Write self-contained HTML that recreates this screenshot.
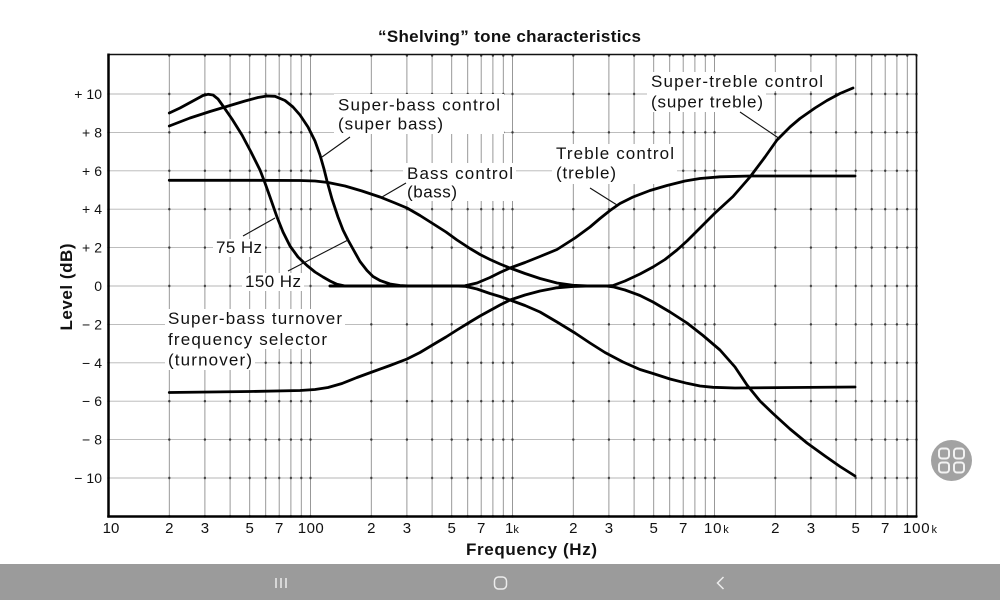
<!DOCTYPE html>
<html>
<head>
<meta charset="utf-8">
<style>
html,body{margin:0;padding:0;background:#fff;}
svg{display:block;}
text{font-family:"Liberation Sans",Arial,sans-serif;fill:#111;}
</style>
</head>
<body>
<svg width="1000" height="600" viewBox="0 0 1000 600" xmlns="http://www.w3.org/2000/svg">
<defs>
<pattern id="dots" patternUnits="userSpaceOnUse" x="103.5" y="36.4" width="202" height="38.4">
<g fill="#3a3a3a">
<circle cx="5" cy="19.2" r="1.2"/><circle cx="65.8" cy="19.2" r="1.2"/><circle cx="101.4" cy="19.2" r="1.2"/>
<circle cx="126.6" cy="19.2" r="1.2"/><circle cx="146.2" cy="19.2" r="1.2"/><circle cx="162.2" cy="19.2" r="1.2"/>
<circle cx="175.7" cy="19.2" r="1.2"/><circle cx="187.4" cy="19.2" r="1.2"/><circle cx="197.8" cy="19.2" r="1.2"/>
</g>
</pattern>
</defs>
<rect width="1000" height="600" fill="#fff"/>

<!-- grid vertical -->
<path fill="none" stroke="#8e8e8e" stroke-width="0.9" d="
M169.3 54.5V516.5M204.9 54.5V516.5M230.1 54.5V516.5M249.7 54.5V516.5M265.7 54.5V516.5M279.2 54.5V516.5M290.9 54.5V516.5M301.3 54.5V516.5
M310.5 54.5V516.5M371.3 54.5V516.5M406.9 54.5V516.5M432.1 54.5V516.5M451.7 54.5V516.5M467.7 54.5V516.5M481.2 54.5V516.5M492.9 54.5V516.5M503.3 54.5V516.5
M512.5 54.5V516.5M573.3 54.5V516.5M608.9 54.5V516.5M634.1 54.5V516.5M653.7 54.5V516.5M669.7 54.5V516.5M683.2 54.5V516.5M694.9 54.5V516.5M705.3 54.5V516.5
M714.5 54.5V516.5M775.3 54.5V516.5M810.9 54.5V516.5M836.1 54.5V516.5M855.7 54.5V516.5M871.7 54.5V516.5M885.2 54.5V516.5M896.9 54.5V516.5M907.3 54.5V516.5"/>
<!-- grid horizontal -->
<path fill="none" stroke="#b4b4b4" stroke-width="0.9" d="
M108.5 94H916.5M108.5 132.4H916.5M108.5 170.8H916.5M108.5 209.2H916.5M108.5 247.6H916.5M108.5 286H916.5
M108.5 324.4H916.5M108.5 362.8H916.5M108.5 401.2H916.5M108.5 439.6H916.5M108.5 478H916.5"/>
<rect x="107" y="53" width="812" height="466" fill="url(#dots)"/>

<!-- label backgrounds -->
<g fill="#fff">
<rect x="334" y="94" width="170" height="40"/>
<rect x="403" y="163" width="113" height="38"/>
<rect x="552" y="144" width="125" height="40"/>
<rect x="647" y="72" width="180" height="19"/>
<rect x="647" y="91" width="119" height="21"/>
<rect x="213" y="239" width="52" height="18"/>
<rect x="242" y="273" width="62" height="18"/>
<rect x="165" y="309" width="180" height="19"/>
<rect x="165" y="328" width="165" height="21"/>
<rect x="165" y="349" width="90" height="21"/>
</g>

<!-- axes / frame -->
<line x1="108.5" y1="54.5" x2="916.5" y2="54.5" stroke="#111" stroke-width="1.6"/>
<line x1="916.5" y1="54" x2="916.5" y2="517" stroke="#111" stroke-width="1.6"/>
<line x1="108.5" y1="53.5" x2="108.5" y2="517.5" stroke="#000" stroke-width="2.5"/>
<line x1="107.3" y1="516.5" x2="917.3" y2="516.5" stroke="#000" stroke-width="2.5"/>

<!-- curves -->
<g fill="none" stroke="#000" stroke-width="2.8" stroke-linejoin="round" stroke-linecap="round">
<polyline points="169.3,180.3 250,180.3 300,180.5 315,181 328,182.5 345,186 362,191 380,197 395,203 407,208 420,215.5 435,225 446,232 457,240 470,248.5 480,254.5 490,259.5 500,264 510,268 525,273.5 540,278.5 557,283 573,285.3 590,286 612,286"/>
<polyline points="169.3,392.5 250,391.5 300,390.5 315,389.5 328,387.5 342,383.5 357,377.5 372,372 390,365.5 407,359 420,352.5 435,343.5 446,337 457,330 470,322 480,316 490,310.5 500,305 510,300 525,295 540,291 557,287.8 573,286.5 590,286 612,286"/>
<polyline points="330,286 455,286 465,285.8 477,283 490,277.5 500,272.5 510,268 525,262.5 540,256.5 557,249.5 575,238 590,227 600,218.5 610,210.5 620,203.5 633,197 650,190.5 667,185.5 685,181 700,178.5 720,176.8 750,176 855,176"/>
<polyline points="330,286 455,286 465,286.3 477,289 490,293.5 500,296.5 510,300 525,305.5 540,312 557,322 575,333 590,343 605,352.5 623,362 640,369.5 653,373.5 670,379 687,383.3 700,386 713,387.3 735,388 855,387"/>
<polyline points="560,286 606,286 613,285.5 625,281 640,274 653,267 665,259.5 677,250 687,241 700,228 715,213 733,196.5 750,177 765,157 777,140 790,127 800,118.5 815,108 827,100.5 840,93.5 853,88"/>
<polyline points="560,286 606,286 613,286.8 625,290 640,295.5 653,302 670,312 687,323 703,335.5 720,350 735,367 747,385 760,401 773,413.5 790,429 807,443 825,456 840,466.5 855,476"/>
<polyline points="169.3,113 180,108 192,101.5 203,95.5 208,94.3 213,95 218,99 223,106 232,119 242,135 251,152 260,170 265,183 270,197 277,217 283,232 290,246 298,257 307,265.5 315,272 323,277 330,281 337,284.3 345,286 460,286"/>
<polyline points="169.3,126 190,118 210,111.5 225,107 245,101 258,97.5 267,96 275,96.3 285,100.5 293,107 300,115 308,127 315,141 320,155 324,169 327,181 332,199 338,217 343,230 348,240 353,249 360,261.5 367,270.5 373,276.5 380,280.5 390,284 400,285.5 410,286 460,286"/>
</g>

<!-- leader lines -->
<g stroke="#111" stroke-width="1.1">
<line x1="350" y1="137" x2="322" y2="157"/>
<line x1="406" y1="183" x2="382" y2="197"/>
<line x1="590" y1="188" x2="617" y2="205"/>
<line x1="740" y1="112" x2="780" y2="139"/>
<line x1="243" y1="236" x2="275" y2="218"/>
<line x1="288" y1="271" x2="348" y2="240"/>
</g>

<!-- title & axis titles -->
<text x="378" y="42" font-size="17" font-weight="bold" textLength="263">“Shelving” tone characteristics</text>
<text x="466" y="555" font-size="17" font-weight="bold" textLength="131">Frequency (Hz)</text>
<text transform="translate(72,287) rotate(-90)" text-anchor="middle" font-size="17" font-weight="bold" textLength="87">Level (dB)</text>

<!-- y tick labels -->
<g font-size="14" text-anchor="end">
<text x="102" y="99">+<tspan dx="4">10</tspan></text>
<text x="102" y="137.4">+<tspan dx="4">8</tspan></text>
<text x="102" y="175.8">+<tspan dx="4">6</tspan></text>
<text x="102" y="214.2">+<tspan dx="4">4</tspan></text>
<text x="102" y="252.6">+<tspan dx="4">2</tspan></text>
<text x="102" y="291">0</text>
<text x="102" y="329.4">−<tspan dx="4">2</tspan></text>
<text x="102" y="367.8">−<tspan dx="4">4</tspan></text>
<text x="102" y="406.2">−<tspan dx="4">6</tspan></text>
<text x="102" y="444.6">−<tspan dx="4">8</tspan></text>
<text x="102" y="483">−<tspan dx="4">10</tspan></text>
</g>

<!-- x tick labels -->
<g font-size="15" text-anchor="middle">
<text x="111" y="533">10</text>
<text x="169.3" y="533">2</text>
<text x="204.9" y="533">3</text>
<text x="249.7" y="533">5</text>
<text x="279.2" y="533">7</text>
<text x="311" y="533" letter-spacing="0.5">100</text>
<text x="371.3" y="533">2</text>
<text x="406.9" y="533">3</text>
<text x="451.7" y="533">5</text>
<text x="481.2" y="533">7</text>
<text x="573.3" y="533">2</text>
<text x="608.9" y="533">3</text>
<text x="653.7" y="533">5</text>
<text x="683.2" y="533">7</text>
<text x="775.3" y="533">2</text>
<text x="810.9" y="533">3</text>
<text x="855.7" y="533">5</text>
<text x="885.2" y="533">7</text>
</g>
<text x="505" y="533" font-size="15">1<tspan font-size="11">k</tspan></text>
<text x="704" y="533" font-size="15" letter-spacing="0.8">10<tspan font-size="11" dx="1" letter-spacing="0">k</tspan></text>
<text x="903" y="533" font-size="15" letter-spacing="0.8">100<tspan font-size="11" dx="1" letter-spacing="0">k</tspan></text>

<!-- annotations -->
<g font-size="17">
<text x="338" y="110.5" textLength="162">Super-bass control</text>
<text x="338" y="129.5" textLength="105">(super bass)</text>
<text x="407" y="179" textLength="106">Bass control</text>
<text x="407" y="197.5" textLength="50">(bass)</text>
<text x="556" y="159" textLength="118">Treble control</text>
<text x="556" y="178.5" textLength="60">(treble)</text>
<text x="651" y="87" textLength="172">Super-treble control</text>
<text x="651" y="107.5" textLength="112">(super treble)</text>
<text x="216" y="253" textLength="46">75 Hz</text>
<text x="245" y="287" textLength="56">150 Hz</text>
<text x="168" y="324" textLength="174">Super-bass turnover</text>
<text x="168" y="345" textLength="159">frequency selector</text>
<text x="168" y="365.5" textLength="84">(turnover)</text>
</g>

<!-- floating button -->
<circle cx="951.5" cy="460.5" r="20.5" fill="#a2a2a2"/>
<g fill="none" stroke="#f2f2f2" stroke-width="2">
<rect x="939" y="448.5" width="10" height="10" rx="3"/>
<rect x="954" y="448.5" width="10" height="10" rx="3"/>
<rect x="939" y="462.5" width="10" height="10" rx="3"/>
<rect x="954" y="462.5" width="10" height="10" rx="3"/>
</g>

<!-- nav bar -->
<rect x="0" y="564" width="1000" height="36" fill="#9b9b9b"/>
<g stroke="#ececec" stroke-width="1.5" fill="none">
<line x1="276" y1="578" x2="276" y2="588"/>
<line x1="281" y1="578" x2="281" y2="588"/>
<line x1="286" y1="578" x2="286" y2="588"/>
<rect x="494.5" y="577" width="12" height="12" rx="4"/>
<polyline points="723.5,577 717.5,583 723.5,589"/>
</g>
</svg>
</body>
</html>
